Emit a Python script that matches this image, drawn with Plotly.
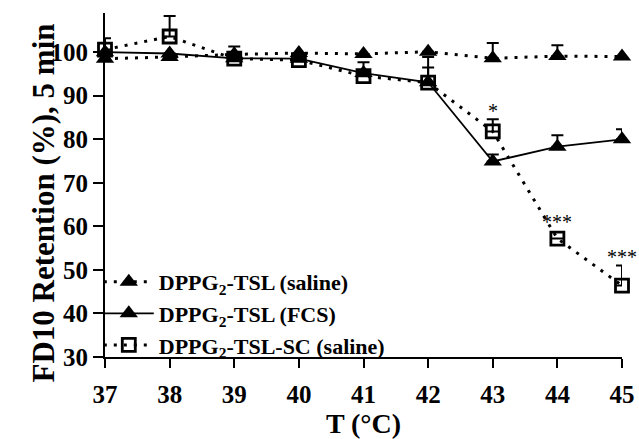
import plotly.graph_objects as go

temps = [37, 38, 39, 40, 41, 42, 43, 44, 45]

saline = [98.5, 98.9, 99.5, 99.8, 99.6, 100.1, 98.6, 99.1, 99.0]
saline_err = [0.0, 0.0, 0.0, 0.0, 0.0, 0.0, 3.5, 2.5, 0.0]

fcs = [100.0, 99.7, 98.6, 98.5, 95.2, 93.1, 74.9, 78.3, 80.0]
fcs_err = [0.0, 0.0, 0.0, 0.0, 2.5, 5.8, 1.6, 2.6, 2.3]

sc = [100.6, 103.6, 98.5, 98.2, 94.5, 93.0, 81.8, 57.2, 46.4]
sc_err = [2.6, 4.7, 2.8, 1.0, 1.0, 3.5, 2.8, 0.0, 4.6]

star_x = [43, 44, 45]
star_y = [86.4, 61.0, 53.0]
star_text = ["*", "***", "***"]

names = ["DPPG<sub>2</sub>-TSL (saline)", "DPPG<sub>2</sub>-TSL (FCS)",
         "DPPG<sub>2</sub>-TSL-SC (saline)"]

FONT = "Liberation Serif, Times New Roman, serif"
DOT = "3px,7px"

fig = go.Figure()

def add(y, err, name, symbol, dash, lw, msize, mline, grp):
    fig.add_trace(go.Scatter(
        x=temps, y=y, name=name, mode="lines+markers",
        legendgroup=grp,
        line=dict(color="black", width=lw, dash=dash),
        marker=dict(symbol=symbol, size=msize, color="black",
                    line=dict(color="black", width=mline)),
        error_y=dict(type="data", symmetric=False, array=err,
                     arrayminus=[0] * len(err), color="black",
                     thickness=2, width=6),
        cliponaxis=False,
    ))

add(saline, saline_err, names[0], "triangle-up", DOT, 3, 16, 0, "a")
add(fcs, fcs_err, names[1], "triangle-up", "solid", 1.8, 16, 0, "b")
add(sc, sc_err, names[2], "square-open", DOT, 3, 13, 2.8, "c")

for sx, sy, st in zip(star_x, star_y, star_text):
    fig.add_annotation(x=sx, y=sy, text=st, showarrow=False,
                       font=dict(family=FONT, size=20, color="black"))

fig.add_annotation(xref="paper", yref="paper", x=0, y=0.5, xshift=-82,
                   yshift=-18, textangle=-90, showarrow=False,
                   text="FD10 Retention (%), 5 min",
                   font=dict(family=FONT, size=31, color="black", weight="bold"))

fig.update_layout(
    width=639, height=439,
    margin=dict(l=105, r=17, t=13, b=82, autoexpand=False),
    paper_bgcolor="white", plot_bgcolor="white",
    showlegend=True,
    legend=dict(x=-0.012, y=-0.026, xanchor="left", yanchor="bottom",
                bgcolor="rgba(0,0,0,0)", tracegroupgap=0, itemwidth=50,
                font=dict(family=FONT, size=22, color="black", weight="bold")),
    xaxis=dict(range=[37, 45], dtick=1, tick0=37, showgrid=False, zeroline=False,
               showline=True, linecolor="black", linewidth=2,
               ticks="outside", ticklen=9, tickwidth=2, tickcolor="black",
               ticklabelstandoff=5,
               tickfont=dict(family=FONT, size=25, color="black", weight="bold"),
               title=dict(text="T (°C)", standoff=12,
                          font=dict(family=FONT, size=28, color="black", weight="bold"))),
    yaxis=dict(range=[30, 109], tickvals=[30, 40, 50, 60, 70, 80, 90, 100],
               showgrid=False, zeroline=False,
               showline=True, linecolor="black", linewidth=2,
               ticks="outside", ticklen=10, tickwidth=2, tickcolor="black",
               tickfont=dict(family=FONT, size=25, color="black", weight="bold")),
)

fig.write_html("out.html")
